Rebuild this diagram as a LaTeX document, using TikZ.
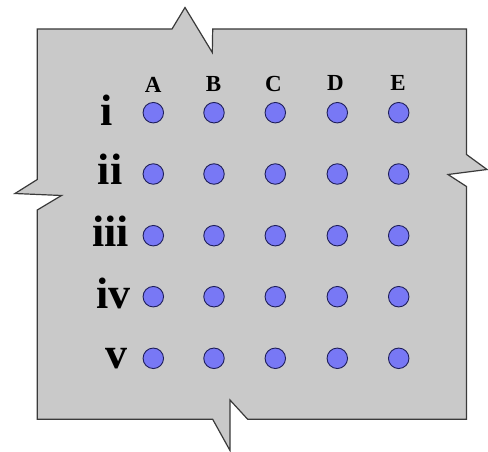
\documentclass[tikz,border=0pt]{standalone}
\usepackage{fontspec}
\setmainfont{Liberation Serif}
\definecolor{paper}{HTML}{C9C9C9}
\definecolor{edge}{HTML}{3A3A3A}
\definecolor{dotfill}{HTML}{7878F5}
\definecolor{dotedge}{HTML}{1E1E5A}
\tikzset{
  board/.style={fill=paper, draw=edge, line width=1.2pt, line join=miter},
  dotnode/.style={circle, minimum size=20.5pt, inner sep=0pt, fill=dotfill, draw=dotedge, line width=0.9pt},
  collabel/.style={anchor=base, inner sep=0pt, font=\fontsize{23}{23}\selectfont\bfseries},
  rowlabel/.style={anchor=base, inner sep=0pt, font=\fontsize{44}{44}\selectfont\bfseries}
}
\begin{document}
\begin{tikzpicture}[x=1pt, y=-1pt]
\useasboundingbox (0,0) rectangle (488,452);
\draw[board] (37.3,29) -- (172,29) -- (185,7.5) -- (212.3,52.5) -- (212.7,29) -- (466.5,29)
  -- (466.5,154.5) -- (487,169.5) -- (448,174.5) -- (466.5,186.5) -- (466.5,419.3)
  -- (247.7,419.3) -- (230,400) -- (230,450.5) -- (212.7,419.3) -- (37.3,419.3)
  -- (37.3,210) -- (61.5,195.5) -- (15,193.5) -- (37.3,179.5) -- cycle;
% column labels
\node[collabel] (cA) at (153.3,93) {A};
\node[collabel] (cB) at (213.5,91.7) {B};
\node[collabel] (cC) at (273.5,91.7) {C};
\node[collabel] (cD) at (335.5,90.7) {D};
\node[collabel] (cE) at (398,90.7) {E};
% row labels
\node[rowlabel] (r1) at (106.7,125) {i};
\node[rowlabel] (r2) at (110,184.3) {ii};
\node[rowlabel] (r3) at (110.8,246.7) {iii};
\node[rowlabel] (r4) at (113.8,308) {iv};
\node[rowlabel] (r5) at (116.7,368) {v};
% dots
\foreach \c/\x in {A/153.3,B/214,C/275.3,D/337.3,E/398.7}{
  \foreach \r/\y in {1/112.7,2/174,3/235.7,4/296.7,5/358.3}{
    \node[dotnode] (d\c\r) at (\x,\y) {};
  }
}
\end{tikzpicture}
\end{document}
